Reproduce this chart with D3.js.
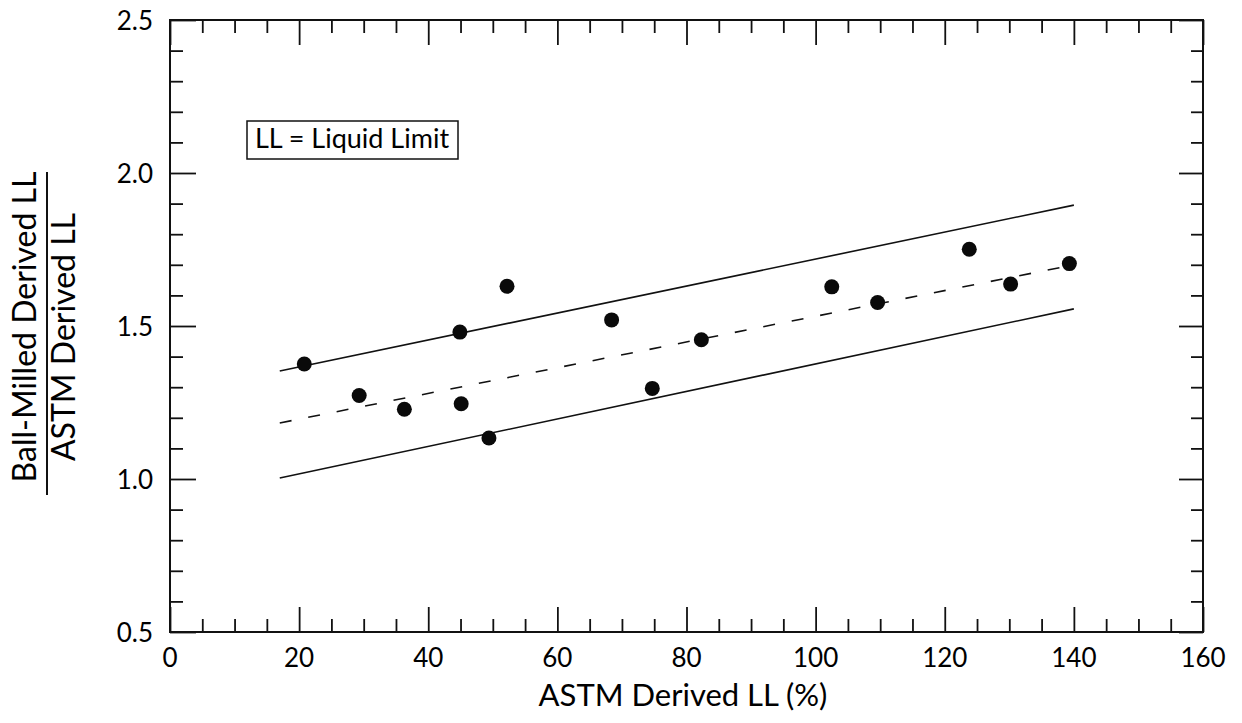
<!DOCTYPE html>
<html>
<head>
<meta charset="utf-8">
<script src="https://cdn.jsdelivr.net/npm/d3@7"></script>
<style>
  body { margin: 0; background: #fff; }
  svg { display: block; font-family: Lato, "Open Sans", sans-serif; }
  .domain { display: none; }
</style>
</head>
<body>
<script>
// measured points: ASTM LL (%) vs ratio ball-milled / ASTM
const astmLL = [20.8, 29.3, 36.3, 44.9, 45.1, 49.4, 52.2, 68.4, 74.7, 82.3, 102.5, 109.6, 123.8, 130.2, 139.3];
const ratio = [1.376, 1.273, 1.228, 1.480, 1.246, 1.134, 1.630, 1.520, 1.296, 1.455, 1.628, 1.577, 1.751, 1.637, 1.704];

// trend line (dashed) and bounds (solid), given by their end points
const lineX = [17, 140];
const trendY = [1.183, 1.700];
const upperY = [1.353, 1.895];
const lowerY = [1.003, 1.556];

const xMajor = [0, 20, 40, 60, 80, 100, 120, 140, 160];
const yMajor = [0.5, 1.0, 1.5, 2.0, 2.5];
const legendText = "LL = Liquid Limit";

const width = 1242, height = 723;
const mLeft = 170, mRight = 1203, mTop = 20, mBottom = 632;

const x = d3.scaleLinear().domain([0, 160]).range([mLeft, mRight]);
const y = d3.scaleLinear().domain([0.5, 2.5]).range([mBottom, mTop]);

const xMinor = d3.range(0, 161, 5).filter(v => v % 20 !== 0);
const yMinor = d3.range(5, 26).map(v => v / 10).filter(v => Math.round(v * 10) % 5 !== 0);

const svg = d3.select('body').append('svg')
    .attr('width', width)
    .attr('height', height);

// ticks, all pointing into the plot
const tickStyle = g => g.call(s => s.selectAll('line').attr('stroke', '#111').attr('stroke-width', 1.8))
    .call(s => s.selectAll('text').remove());

svg.append('g').attr('transform', `translate(0,${mBottom})`)
    .call(d3.axisBottom(x).tickValues(xMinor).tickSize(-13)).call(tickStyle);
svg.append('g').attr('transform', `translate(0,${mBottom})`)
    .call(d3.axisBottom(x).tickValues(xMajor).tickSize(-25)).call(tickStyle);
svg.append('g').attr('transform', `translate(0,${mTop})`)
    .call(d3.axisTop(x).tickValues(xMinor).tickSize(-13)).call(tickStyle);
svg.append('g').attr('transform', `translate(0,${mTop})`)
    .call(d3.axisTop(x).tickValues(xMajor).tickSize(-25)).call(tickStyle);
svg.append('g').attr('transform', `translate(${mLeft},0)`)
    .call(d3.axisLeft(y).tickValues(yMinor).tickSize(-13)).call(tickStyle);
svg.append('g').attr('transform', `translate(${mLeft},0)`)
    .call(d3.axisLeft(y).tickValues(yMajor).tickSize(-26)).call(tickStyle);
svg.append('g').attr('transform', `translate(${mRight},0)`)
    .call(d3.axisRight(y).tickValues(yMinor).tickSize(-12)).call(tickStyle);
svg.append('g').attr('transform', `translate(${mRight},0)`)
    .call(d3.axisRight(y).tickValues(yMajor).tickSize(-24)).call(tickStyle);

// frame
svg.append('rect')
    .attr('x', mLeft).attr('y', mTop)
    .attr('width', mRight - mLeft).attr('height', mBottom - mTop)
    .attr('fill', 'none').attr('stroke', '#111').attr('stroke-width', 2);

// tick labels
svg.append('g').selectAll('text').data(xMajor).join('text')
    .attr('x', d => x(d)).attr('y', mBottom + 35)
    .attr('text-anchor', 'middle')
    .attr('font-size', 26)
    .text(d => d);

svg.append('g').selectAll('text').data(yMajor).join('text')
    .attr('x', mLeft - 17).attr('y', d => y(d) + 10)
    .attr('text-anchor', 'end')
    .attr('font-size', 26)
    .text(d => d.toFixed(1));

// axis titles
svg.append('text')
    .attr('x', 683).attr('y', 706)
    .attr('text-anchor', 'middle')
    .attr('font-size', 31)
    .text('ASTM Derived LL (%)');

const yTitle = svg.append('g').attr('transform', 'translate(0,332) rotate(-90)');
yTitle.append('text')
    .attr('x', 5).attr('y', 36)
    .attr('text-anchor', 'middle')
    .attr('font-size', 32)
    .text('Ball-Milled Derived LL');
yTitle.append('line')
    .attr('x1', -163).attr('x2', 160)
    .attr('y1', 47).attr('y2', 47)
    .attr('stroke', '#111').attr('stroke-width', 2);
yTitle.append('text')
    .attr('x', -5).attr('y', 75)
    .attr('text-anchor', 'middle')
    .attr('font-size', 32)
    .text('ASTM Derived LL');

// legend box
svg.append('rect')
    .attr('x', 247).attr('y', 121)
    .attr('width', 211).attr('height', 38)
    .attr('fill', '#fff').attr('stroke', '#111').attr('stroke-width', 1.5);
svg.append('text')
    .attr('x', 352).attr('y', 148)
    .attr('text-anchor', 'middle')
    .attr('font-size', 27)
    .text(legendText);

// lines
const line = d3.line().x(d => x(d[0])).y(d => y(d[1]));
const mk = ys => lineX.map((v, i) => [v, ys[i]]);

svg.append('path').attr('d', line(mk(upperY)))
    .attr('fill', 'none').attr('stroke', '#111').attr('stroke-width', 1.6);
svg.append('path').attr('d', line(mk(lowerY)))
    .attr('fill', 'none').attr('stroke', '#111').attr('stroke-width', 1.6);
svg.append('path').attr('d', line(mk(trendY)))
    .attr('fill', 'none').attr('stroke', '#111').attr('stroke-width', 1.6)
    .attr('stroke-dasharray', '12 17');

// points
svg.append('g').selectAll('circle').data(astmLL).join('circle')
    .attr('cx', d => x(d))
    .attr('cy', (d, i) => y(ratio[i]))
    .attr('r', 7.5)
    .attr('fill', '#0a0a0a');
</script>
</body>
</html>
